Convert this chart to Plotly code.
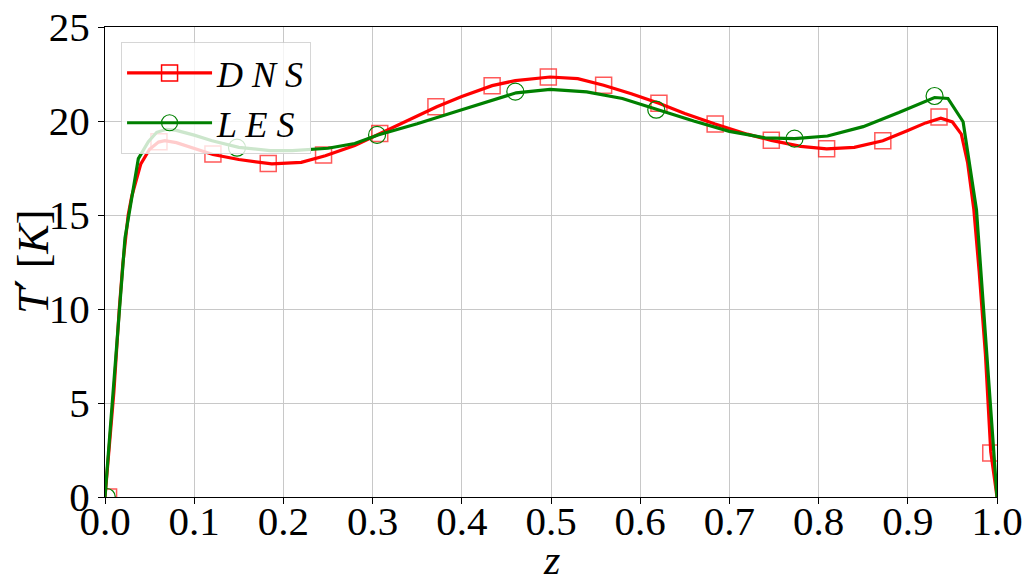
import plotly.graph_objects as go

# DNS profile (smooth line)
dns_z = [0.0, 0.005, 0.01, 0.016, 0.02, 0.026, 0.03, 0.04, 0.05, 0.06, 0.067, 0.08, 0.1, 0.121,
         0.15, 0.187, 0.22, 0.247, 0.28, 0.308, 0.34, 0.372, 0.40, 0.434, 0.46, 0.499, 0.53,
         0.559, 0.59, 0.621, 0.65, 0.684, 0.72, 0.747, 0.78, 0.809, 0.84, 0.872, 0.90, 0.92,
         0.937, 0.95, 0.96, 0.967, 0.974, 0.98, 0.987, 0.993, 1.0]
dns_T = [0.0, 2.8, 5.6, 10.0, 12.4, 15.0, 16.0, 17.7, 18.5, 18.88, 18.95, 18.85, 18.55, 18.22,
         17.95, 17.72, 17.8, 18.15, 18.7, 19.34, 20.05, 20.76, 21.3, 21.88, 22.15, 22.34, 22.25,
         21.9, 21.45, 20.94, 20.4, 19.84, 19.3, 18.97, 18.65, 18.52, 18.6, 18.95, 19.5, 19.9,
         20.15, 19.95, 19.3, 17.8, 15.3, 12.0, 7.6, 2.4, 0.0]

# DNS marker samples
dns_mz = [0.004, 0.0605, 0.121, 0.183, 0.245, 0.308, 0.371, 0.434, 0.497, 0.559, 0.621,
          0.684, 0.747, 0.809, 0.872, 0.935, 0.993]
dns_mT = [0.0, 18.9, 18.24, 17.74, 18.19, 19.34, 20.76, 21.88, 22.34, 21.9, 20.94,
          19.84, 18.97, 18.53, 18.95, 20.21, 2.34]

# LES profile (coarser grid)
les_z = [0.0, 0.0224, 0.0374, 0.0486, 0.058, 0.069, 0.08, 0.1, 0.12, 0.150, 0.185, 0.21,
         0.25, 0.28, 0.306, 0.35, 0.40, 0.44, 0.461, 0.499, 0.54, 0.58, 0.619, 0.66, 0.70,
         0.74, 0.773, 0.81, 0.85, 0.89, 0.93, 0.945, 0.962, 0.977, 1.0]
les_T = [0.0, 13.76, 18.0, 18.9, 19.4, 19.56, 19.5, 19.25, 18.95, 18.6, 18.42, 18.42,
         18.55, 18.8, 19.26, 19.85, 20.6, 21.2, 21.5, 21.68, 21.55, 21.2, 20.6, 20.0, 19.45,
         19.1, 19.06, 19.2, 19.7, 20.45, 21.25, 21.2, 19.96, 15.27, 0.0]

# LES marker samples
les_mz = [0.002, 0.148, 0.305, 0.460, 0.618, 0.773, 0.930]
les_mT = [0.0, 18.58, 19.26, 21.56, 20.6, 19.06, 21.33]

x_ticks = [0.0, 0.1, 0.2, 0.3, 0.4, 0.5, 0.6, 0.7, 0.8, 0.9, 1.0]
x_ticklabels = ["0.0", "0.1", "0.2", "0.3", "0.4", "0.5", "0.6", "0.7", "0.8", "0.9", "1.0"]
y_ticks = [0, 5, 10, 15, 20, 25]

RED = "#ff0000"
GREEN = "#008000"
FONT = "Liberation Serif"

fig = go.Figure()

fig.add_trace(go.Scatter(x=dns_z, y=dns_T, mode="lines",
                         line=dict(color=RED, width=3.2), showlegend=False))
fig.add_trace(go.Scatter(x=dns_mz, y=dns_mT, mode="markers",
                         marker=dict(symbol="square-open", size=16, color="rgba(255,0,0,0.65)",
                                     line=dict(width=1.5)), showlegend=False))
fig.add_trace(go.Scatter(x=les_z, y=les_T, mode="lines",
                         line=dict(color=GREEN, width=3.2), showlegend=False))
fig.add_trace(go.Scatter(x=les_mz, y=les_mT, mode="markers",
                         marker=dict(symbol="circle-open", size=17, color=GREEN,
                                     line=dict(width=1.2)), showlegend=False))

# legend entries
fig.add_trace(go.Scatter(x=[None], y=[None], mode="lines+markers", name="<i>D N S</i>",
                         line=dict(color=RED, width=3.2),
                         marker=dict(symbol="square-open", size=16, color=RED, line=dict(width=1.5))))
fig.add_trace(go.Scatter(x=[None], y=[None], mode="lines+markers", name="<i>L E S</i>",
                         line=dict(color=GREEN, width=3.2),
                         marker=dict(symbol="circle-open", size=17, color=GREEN, line=dict(width=1.2))))

fig.update_layout(
    width=1027, height=583,
    margin=dict(l=105, r=30, t=27, b=86),
    plot_bgcolor="white", paper_bgcolor="white",
    font=dict(family=FONT, size=41, color="black"),
    legend=dict(x=0.018, y=0.968, xanchor="left", yanchor="top",
                bgcolor="rgba(255,255,255,0.8)", bordercolor="rgba(204,204,204,0.8)",
                borderwidth=1, itemwidth=85, font=dict(family=FONT, size=36)),
    annotations=[
        dict(text="<i>z</i>", xref="paper", yref="paper", x=0.5, y=-0.133,
             xanchor="center", yanchor="middle", showarrow=False, font=dict(size=42)),
        dict(text="<i>T</i><span style=\"font-family:DejaVu Serif\">′</span> [<i>K</i>]",
             xref="paper", yref="paper", x=-0.082, y=0.5, textangle=-90,
             xanchor="center", yanchor="middle", showarrow=False, font=dict(size=44)),
    ],
)
fig.update_xaxes(range=[0, 1], tickvals=x_ticks, ticktext=x_ticklabels, automargin=False,
                 showline=True, linecolor="black", linewidth=1.2, mirror=True,
                 ticks="outside", ticklen=6, tickcolor="black", ticklabelstandoff=-18,
                 showgrid=True, gridcolor="#c8c8c8", gridwidth=1, zeroline=False)
fig.update_yaxes(range=[0, 25], tickvals=y_ticks, automargin=False,
                 showline=True, linecolor="black", linewidth=1.2, mirror=True,
                 ticks="outside", ticklen=6, tickcolor="black",
                 showgrid=True, gridcolor="#c8c8c8", gridwidth=1, zeroline=False)

fig.write_html("out.html")
